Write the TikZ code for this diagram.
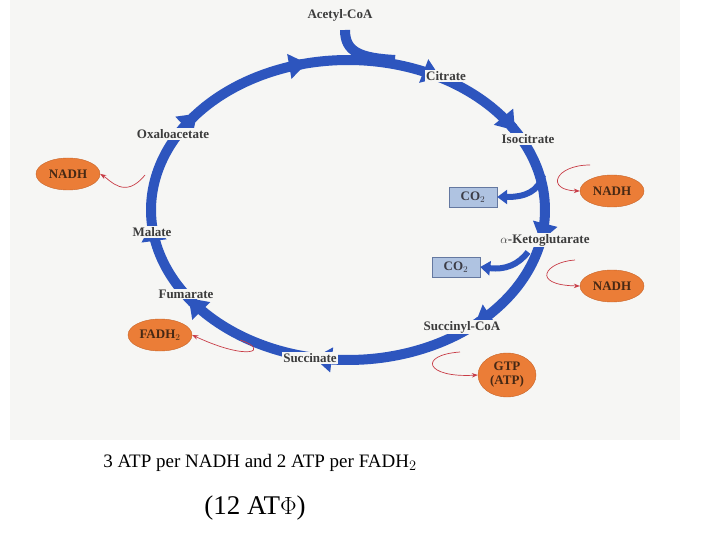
\documentclass[tikz,border=0pt]{standalone}
\usepackage{fontspec}
\usetikzlibrary{arrows.meta,shapes.geometric}
\setmainfont{Liberation Serif}
\begin{document}
\begin{tikzpicture}[x=1pt,y=-1pt,
 cyc/.style={line width=10pt,draw={rgb,255:red,45;green,85;blue,190},-{Triangle[length=18pt,width=24pt]}},
 lbl/.style={font=\fontsize{13}{14}\selectfont\bfseries,text={rgb,255:red,60;green,60;blue,60},fill=bg,inner sep=1pt},
 prod/.style={ellipse,fill={rgb,255:red,235;green,125;blue,55},draw={rgb,255:red,200;green,100;blue,40},font=\fontsize{13}{14}\selectfont\bfseries,text={rgb,255:red,70;green,40;blue,20},inner sep=0pt,minimum width=64pt,minimum height=32pt},
 cobox/.style={draw={rgb,255:red,100;green,120;blue,160},fill={rgb,255:red,175;green,195;blue,225},font=\fontsize{13}{14}\selectfont\bfseries,text={rgb,255:red,60;green,60;blue,70},minimum width=48pt,minimum height=20pt},
 side/.style={draw={rgb,255:red,200;green,60;blue,70},line width=0.7pt,-{Stealth[length=6pt]}},
 coarr/.style={line width=6pt,draw={rgb,255:red,45;green,85;blue,190},-{Triangle[length=10pt,width=14pt]}}]
\definecolor{bg}{RGB}{246,246,244}
\useasboundingbox (0,0) rectangle (720,540);
\fill[white] (0,0) rectangle (720,540);
\fill[bg] (10,0) rectangle (680,440);
\def\cx{348}\def\cy{210}\def\rx{197}\def\ry{150}
\foreach \a/\b in {104/62,64/32,34/-12,-10/-50,-48/-100,-98/-144,-142/-175,187/140,142/102}{
 \draw[cyc] plot[domain=\a:\b,samples=30] ({\cx+\rx*cos(\x)},{\cy-\ry*sin(\x)});}
\coordinate (acs) at (345,30);
\draw[line width=10pt,draw={rgb,255:red,45;green,85;blue,190}] (acs) .. controls (345,52) and (360,58) .. (395,60);
\node[lbl] (acetyl) at (340,15) {Acetyl-CoA};
\node[lbl] (cit) at (446,76) {Citrate};
\node[lbl] (iso) at (528,139) {Isocitrate};
\node[lbl] (akg) at (545,240) {$\alpha$-Ketoglutarate};
\node[lbl] (suc) at (462,327) {Succinyl-CoA};
\node[lbl] (sucn) at (310,358) {Succinate};
\node[lbl] (fum) at (186,294) {Fumarate};
\node[lbl] (mal) at (152,232) {Malate};
\node[lbl] (oxa) at (173,134) {Oxaloacetate};
\node[cobox] (co1) at (473,197) {CO$_2$};
\node[cobox] (co2) at (456,267) {CO$_2$};
\coordinate (c1s) at (543,175); \coordinate (c2s) at (528,252);
\draw[coarr] (c1s) .. controls (538,192) and (525,197) .. (co1.east);
\draw[coarr] (c2s) .. controls (518,265) and (505,270) .. (co2.east);
\node[prod] (n1) at (612,191) {NADH};
\node[prod] (n2) at (612,286) {NADH};
\node[prod,minimum width=58pt,minimum height=44pt] (gtp) at (507,375) {\begin{tabular}{@{}c@{}}GTP\\(ATP)\end{tabular}};
\node[prod] (fad) at (160,335) {FADH$_2$};
\node[prod] (n3) at (68,174) {NADH};
\coordinate (s1) at (590,165); \coordinate (s2) at (575,260);
\coordinate (s3) at (460,352); \coordinate (s4) at (240,340); \coordinate (s5) at (145,175);
\draw[side] (s1) .. controls (555,165) and (545,190) .. (n1.west);
\draw[side] (s2) .. controls (545,262) and (530,285) .. (n2.west);
\draw[side] (s3) .. controls (418,355) and (425,378) .. (gtp.west);
\draw[side] (s4) .. controls (270,350) and (250,362) .. (fad.east);
\draw[side] (s5) .. controls (125,200) and (110,180) .. (n3.east);
\node[font=\fontsize{19}{21}\selectfont] (t1) at (260,463) {3 ATP per NADH and 2 ATP per FADH$_2$};
\node[font=\fontsize{27}{30}\selectfont] (t2) at (255,508) {(12 AT$\Phi$)};
\end{tikzpicture}
\end{document}
